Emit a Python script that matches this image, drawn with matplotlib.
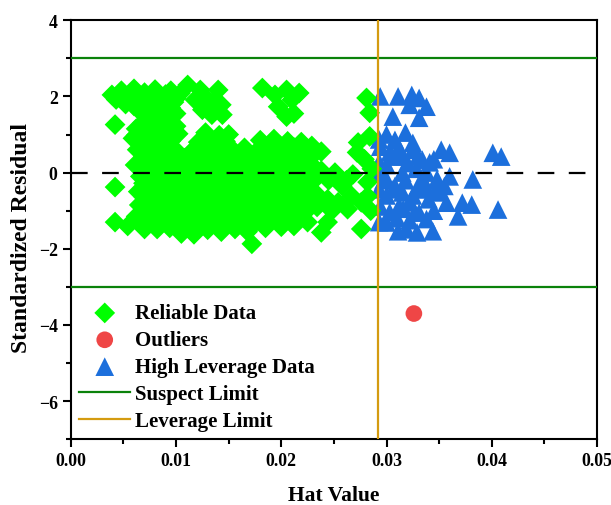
import numpy as np
import matplotlib
matplotlib.use("Agg")
import matplotlib.pyplot as plt

plt.rcParams['font.family'] = ['Liberation Serif', 'DejaVu Serif']
plt.rcParams['font.weight'] = 'bold'

# reliable data (hat value, standardized residual)
reliable_h = [
    0.0039, 0.0043, 0.0048, 0.0055, 0.0060, 0.0065, 0.0070, 0.0075, 0.0080, 0.0085,
    0.0090, 0.0095, 0.0100, 0.0104, 0.0066, 0.0072, 0.0080, 0.0088, 0.0095, 0.0100,
    0.0060, 0.0052, 0.0111, 0.0042, 0.0068, 0.0082, 0.0095,
    0.0045, 0.0058, 0.0068, 0.0078, 0.0090, 0.0098, 0.0074, 0.0086, 0.0062, 0.0077,
    0.0090, 0.0100,
    0.0118, 0.0123, 0.0130, 0.0134, 0.0140, 0.0143, 0.0144, 0.0127, 0.0125, 0.0137,
    0.0182, 0.0194, 0.0197, 0.0205, 0.0205, 0.0217, 0.0210, 0.0212,
    0.0281, 0.0284,
    0.0062, 0.0076, 0.0089, 0.0102, 0.0115, 0.0128, 0.0141, 0.0150, 0.0165, 0.0180,
    0.0193, 0.0206, 0.0219, 0.0229,
    0.0069, 0.0082, 0.0095, 0.0121, 0.0134, 0.0147, 0.0186, 0.0199, 0.0212, 0.0225,
    0.0063, 0.0074, 0.0087, 0.0100, 0.0113, 0.0126, 0.0139, 0.0152, 0.0165, 0.0178,
    0.0191, 0.0204, 0.0217, 0.0230,
    0.0069, 0.0082, 0.0095, 0.0108, 0.0121, 0.0134, 0.0147, 0.0160, 0.0173, 0.0186,
    0.0199, 0.0212, 0.0225,
    0.0061, 0.0076, 0.0089, 0.0101, 0.0114, 0.0127, 0.0140, 0.0153, 0.0166, 0.0179,
    0.0192, 0.0205, 0.0218, 0.0231,
    0.0069, 0.0082, 0.0095, 0.0108, 0.0121, 0.0134, 0.0147, 0.0160, 0.0173, 0.0186,
    0.0199, 0.0212, 0.0225,
    0.0066, 0.0078, 0.0090, 0.0103, 0.0116, 0.0129, 0.0142, 0.0155, 0.0168, 0.0181,
    0.0194, 0.0207, 0.0220, 0.0233,
    0.0069, 0.0082, 0.0095, 0.0108, 0.0121, 0.0134, 0.0147, 0.0160, 0.0173, 0.0186,
    0.0199, 0.0212, 0.0225,
    0.0064, 0.0077, 0.0090, 0.0103, 0.0116, 0.0129, 0.0142, 0.0155, 0.0168, 0.0181,
    0.0194, 0.0207, 0.0220, 0.0233,
    0.0069, 0.0082, 0.0095, 0.0108, 0.0121, 0.0134, 0.0147, 0.0160, 0.0173, 0.0186,
    0.0199, 0.0212, 0.0225,
    0.0065, 0.0078, 0.0091, 0.0104, 0.0117, 0.0130, 0.0143, 0.0156, 0.0169, 0.0182,
    0.0195, 0.0208, 0.0221, 0.0234,
    0.0069, 0.0082, 0.0095, 0.0108, 0.0121, 0.0134, 0.0147, 0.0160, 0.0173, 0.0186,
    0.0199, 0.0212, 0.0225,
    0.0062, 0.0075, 0.0088, 0.0101, 0.0114, 0.0127, 0.0140, 0.0153, 0.0166, 0.0179,
    0.0192, 0.0205, 0.0218,
    0.0069, 0.0082, 0.0095, 0.0108, 0.0121, 0.0134, 0.0147, 0.0160, 0.0173, 0.0186,
    0.0199, 0.0212, 0.0225,
    0.0070, 0.0082, 0.0094, 0.0105, 0.0117, 0.0130, 0.0143, 0.0156, 0.0172, 0.0168,
    0.0185, 0.0200, 0.0212,
    0.0059, 0.0042, 0.0042, 0.0054,
    0.0238, 0.0251, 0.0258, 0.0267, 0.0276, 0.0254, 0.0263, 0.0244, 0.0276, 0.0273,
    0.0279, 0.0282, 0.0282, 0.0272, 0.0284, 0.0210, 0.0238, 0.0244, 0.0245, 0.0238,
    0.0248, 0.0285, 0.0286, 0.0262, 0.0268,
]
reliable_r = [
    2.04, 1.92, 2.15, 2.00, 2.20, 1.85, 2.10, 1.95, 2.18, 1.90,
    2.05, 2.15, 1.95, 2.08, 1.60, 1.55, 1.65, 1.60, 1.70, 1.55,
    1.75, 1.80, 2.30, 1.26, 1.30, 1.35, 1.30,
    2.00, 1.95, 2.00, 1.80, 1.85, 1.85, 1.75, 1.45, 1.15, 1.20,
    1.15, 1.22,
    1.91, 2.17, 1.83, 1.52, 2.17, 1.78, 1.52, 2.00, 1.65, 1.90,
    2.22, 2.04, 1.73, 2.17, 1.47, 2.09, 1.91, 1.55,
    1.96, 1.57,
    0.98, 1.05, 0.95, 1.02, 0.55, 1.05, 0.98, 1.00, 0.65, 0.85,
    0.88, 0.82, 0.80, 0.70,
    0.80, 0.78, 0.83, 0.80, 0.78, 0.82, 0.62, 0.70, 0.66, 0.62,
    0.60, 0.55, 0.65, 0.58, 0.50, 0.62, 0.55, 0.65, 0.50, 0.60,
    0.55, 0.62, 0.50, 0.45,
    0.42, 0.40, 0.45, 0.38, 0.43, 0.40, 0.44, 0.38, 0.42, 0.40,
    0.45, 0.38, 0.40,
    0.20, 0.28, 0.22, 0.30, 0.20, 0.27, 0.18, 0.30, 0.22, 0.25,
    0.30, 0.20, 0.26, 0.15,
    0.07, 0.05, 0.10, 0.04, 0.08, 0.06, 0.10, 0.05, 0.08, 0.06,
    0.10, 0.04, 0.08,
    -0.10, -0.05, -0.15, -0.08, -0.12, -0.02, -0.10, -0.06, -0.14, -0.05,
    -0.10, -0.12, -0.05, -0.15,
    -0.28, -0.30, -0.25, -0.30, -0.27, -0.30, -0.26, -0.30, -0.28, -0.25,
    -0.30, -0.27, -0.30,
    -0.50, -0.42, -0.48, -0.40, -0.50, -0.45, -0.52, -0.40, -0.46, -0.50,
    -0.42, -0.48, -0.45, -0.55,
    -0.63, -0.60, -0.66, -0.62, -0.64, -0.60, -0.65, -0.62, -0.63, -0.60,
    -0.66, -0.62, -0.64,
    -0.85, -0.78, -0.82, -0.75, -0.85, -0.80, -0.78, -0.86, -0.80, -0.76,
    -0.84, -0.80, -0.85, -0.90,
    -0.98, -1.00, -0.95, -0.98, -1.02, -0.96, -0.98, -1.00, -0.95, -0.98,
    -1.00, -0.96, -0.98,
    -1.15, -1.20, -1.10, -1.18, -1.22, -1.12, -1.20, -1.15, -1.22, -1.10,
    -1.18, -1.12, -1.20,
    -1.32, -1.30, -1.35, -1.38, -1.40, -1.32, -1.35, -1.30, -1.38, -1.32,
    -1.30, -1.28, -1.30,
    -1.48, -1.48, -1.45, -1.60, -1.62, -1.50, -1.55, -1.48, -1.87, -1.55,
    -1.45, -1.42, -1.40,
    0.90, -0.38, -1.30, -1.40,
    0.55, 0.00, -0.35, -0.62, -0.78, -0.78, -0.96, -0.70, -1.48, 0.79,
    0.35, -0.25, -0.62, 0.53, 0.95, -1.30, -1.57, -1.30, -0.20, 0.05,
    -1.00, -1.00, 0.10, -0.20, -0.05,
]

# outliers
outlier_h = [0.0326]
outlier_r = [-3.70]

# high leverage data
lever_h = [
    0.0294, 0.0311, 0.0324, 0.0331, 0.0338, 0.0306, 0.0331, 0.0322,
    0.0308, 0.0325, 0.0325, 0.0294, 0.0352, 0.0360, 0.0401, 0.0409, 0.0334, 0.0306,
    0.0303, 0.0315, 0.0330, 0.0341, 0.0293, 0.0293,
    0.0294, 0.0315, 0.0338, 0.0360, 0.0382, 0.0348, 0.0300,
    0.0348, 0.0331, 0.0306, 0.0308, 0.0315, 0.0330, 0.0338, 0.0350, 0.0293,
    0.0372, 0.0381, 0.0357, 0.0406, 0.0368, 0.0331, 0.0303, 0.0327, 0.0338, 0.0312,
    0.0322, 0.0294,
    0.0311, 0.0329, 0.0344, 0.0319, 0.0300, 0.0293,
    0.0300, 0.0312, 0.0320, 0.0328, 0.0300, 0.0318, 0.0325, 0.0340, 0.0310, 0.0322,
    0.0345, 0.0300, 0.0318, 0.0335, 0.0345, 0.0355, 0.0297, 0.0316,
]
lever_r = [
    2.00, 2.00, 2.04, 1.96, 1.73, 1.47, 1.44, 1.78,
    0.86, 0.78, 0.60, 0.68, 0.60, 0.52, 0.52, 0.42, 0.34, 0.42,
    0.53, 0.43, 0.43, 0.27, 0.27, 0.87,
    0.00, 0.00, 0.00, -0.10, -0.18, -0.17, -0.18,
    -0.37, -0.44, -0.44, -0.35, -0.52, -0.35, -0.43, -0.52, -0.44,
    -0.79, -0.84, -0.79, -0.97, -1.15, -1.05, -1.04, -1.04, -1.22, -0.88,
    -0.78, -0.89,
    -1.54, -1.57, -1.54, -1.49, -1.31, -1.30,
    0.20, 0.65, 0.25, 0.10, -0.60, -0.20, -0.60, -0.70, -1.20, -1.25,
    -1.00, 1.00, 1.05, -0.20, 0.35, -0.35, -0.20, -0.95,
]

suspect_limit = 3
leverage_limit = 0.0292

fig = plt.figure(figsize=(6.11, 5.06), dpi=100)
ax = fig.add_axes([0.116, 0.13, 0.861, 0.828])

ax.scatter(lever_h, lever_r, marker='^', s=180, color='#1c6fdc', edgecolors='none',
           label='High Leverage Data', zorder=2)
ax.scatter(reliable_h, reliable_r, marker='D', s=112, color='#00ff00', edgecolors='none',
           label='Reliable Data', zorder=3)
ax.scatter(outlier_h, outlier_r, marker='o', s=144, color='#ef4646', edgecolors='none',
           label='Outliers', zorder=3)

ax.axhline(suspect_limit, color='#0a820a', lw=1.6, zorder=4, label='Suspect Limit')
ax.axhline(-suspect_limit, color='#0a820a', lw=1.6, zorder=4)
ax.axvline(leverage_limit, color='#d49b10', lw=1.6, zorder=5, label='Leverage Limit')
ax.axhline(0, color='black', lw=1.6, linestyle=(0, (7.5, 6.5)), zorder=6)

ax.set_xlim(0, 0.05)
ax.set_ylim(-7, 4)
ax.set_xticks(np.arange(0, 0.051, 0.01))
ax.set_xticks(np.arange(0.005, 0.05, 0.01), minor=True)
ax.set_yticks([-6, -4, -2, 0, 2, 4])
ax.set_yticks([-7, -5, -3, -1, 1, 3], minor=True)
ax.set_xticklabels(['%.2f' % v for v in np.arange(0, 0.051, 0.01)])

ax.tick_params(which='major', direction='out', length=6, width=1.5, labelsize=12.8)
ax.tick_params(which='minor', direction='out', length=3.5, width=1.5)
for s in ax.spines.values():
    s.set_linewidth(1.5)

ax.set_xlabel('Hat Value', fontsize=15.5, fontweight='bold', labelpad=11)
ax.set_ylabel('Standardized Residual', fontsize=17, fontweight='bold')
ax.yaxis.set_label_coords(-0.074, 0.482)

h, l = ax.get_legend_handles_labels()
order = ['Reliable Data', 'Outliers', 'High Leverage Data', 'Suspect Limit', 'Leverage Limit']
hd = dict(zip(l, h))
ax.legend([hd[k] for k in order], order, loc='lower left', frameon=False,
          fontsize=15, handlelength=2.45, handletextpad=0.25, labelspacing=0.33,
          borderaxespad=0.0, bbox_to_anchor=(0.0, 0.0))

fig.savefig('out.png', dpi=100)
